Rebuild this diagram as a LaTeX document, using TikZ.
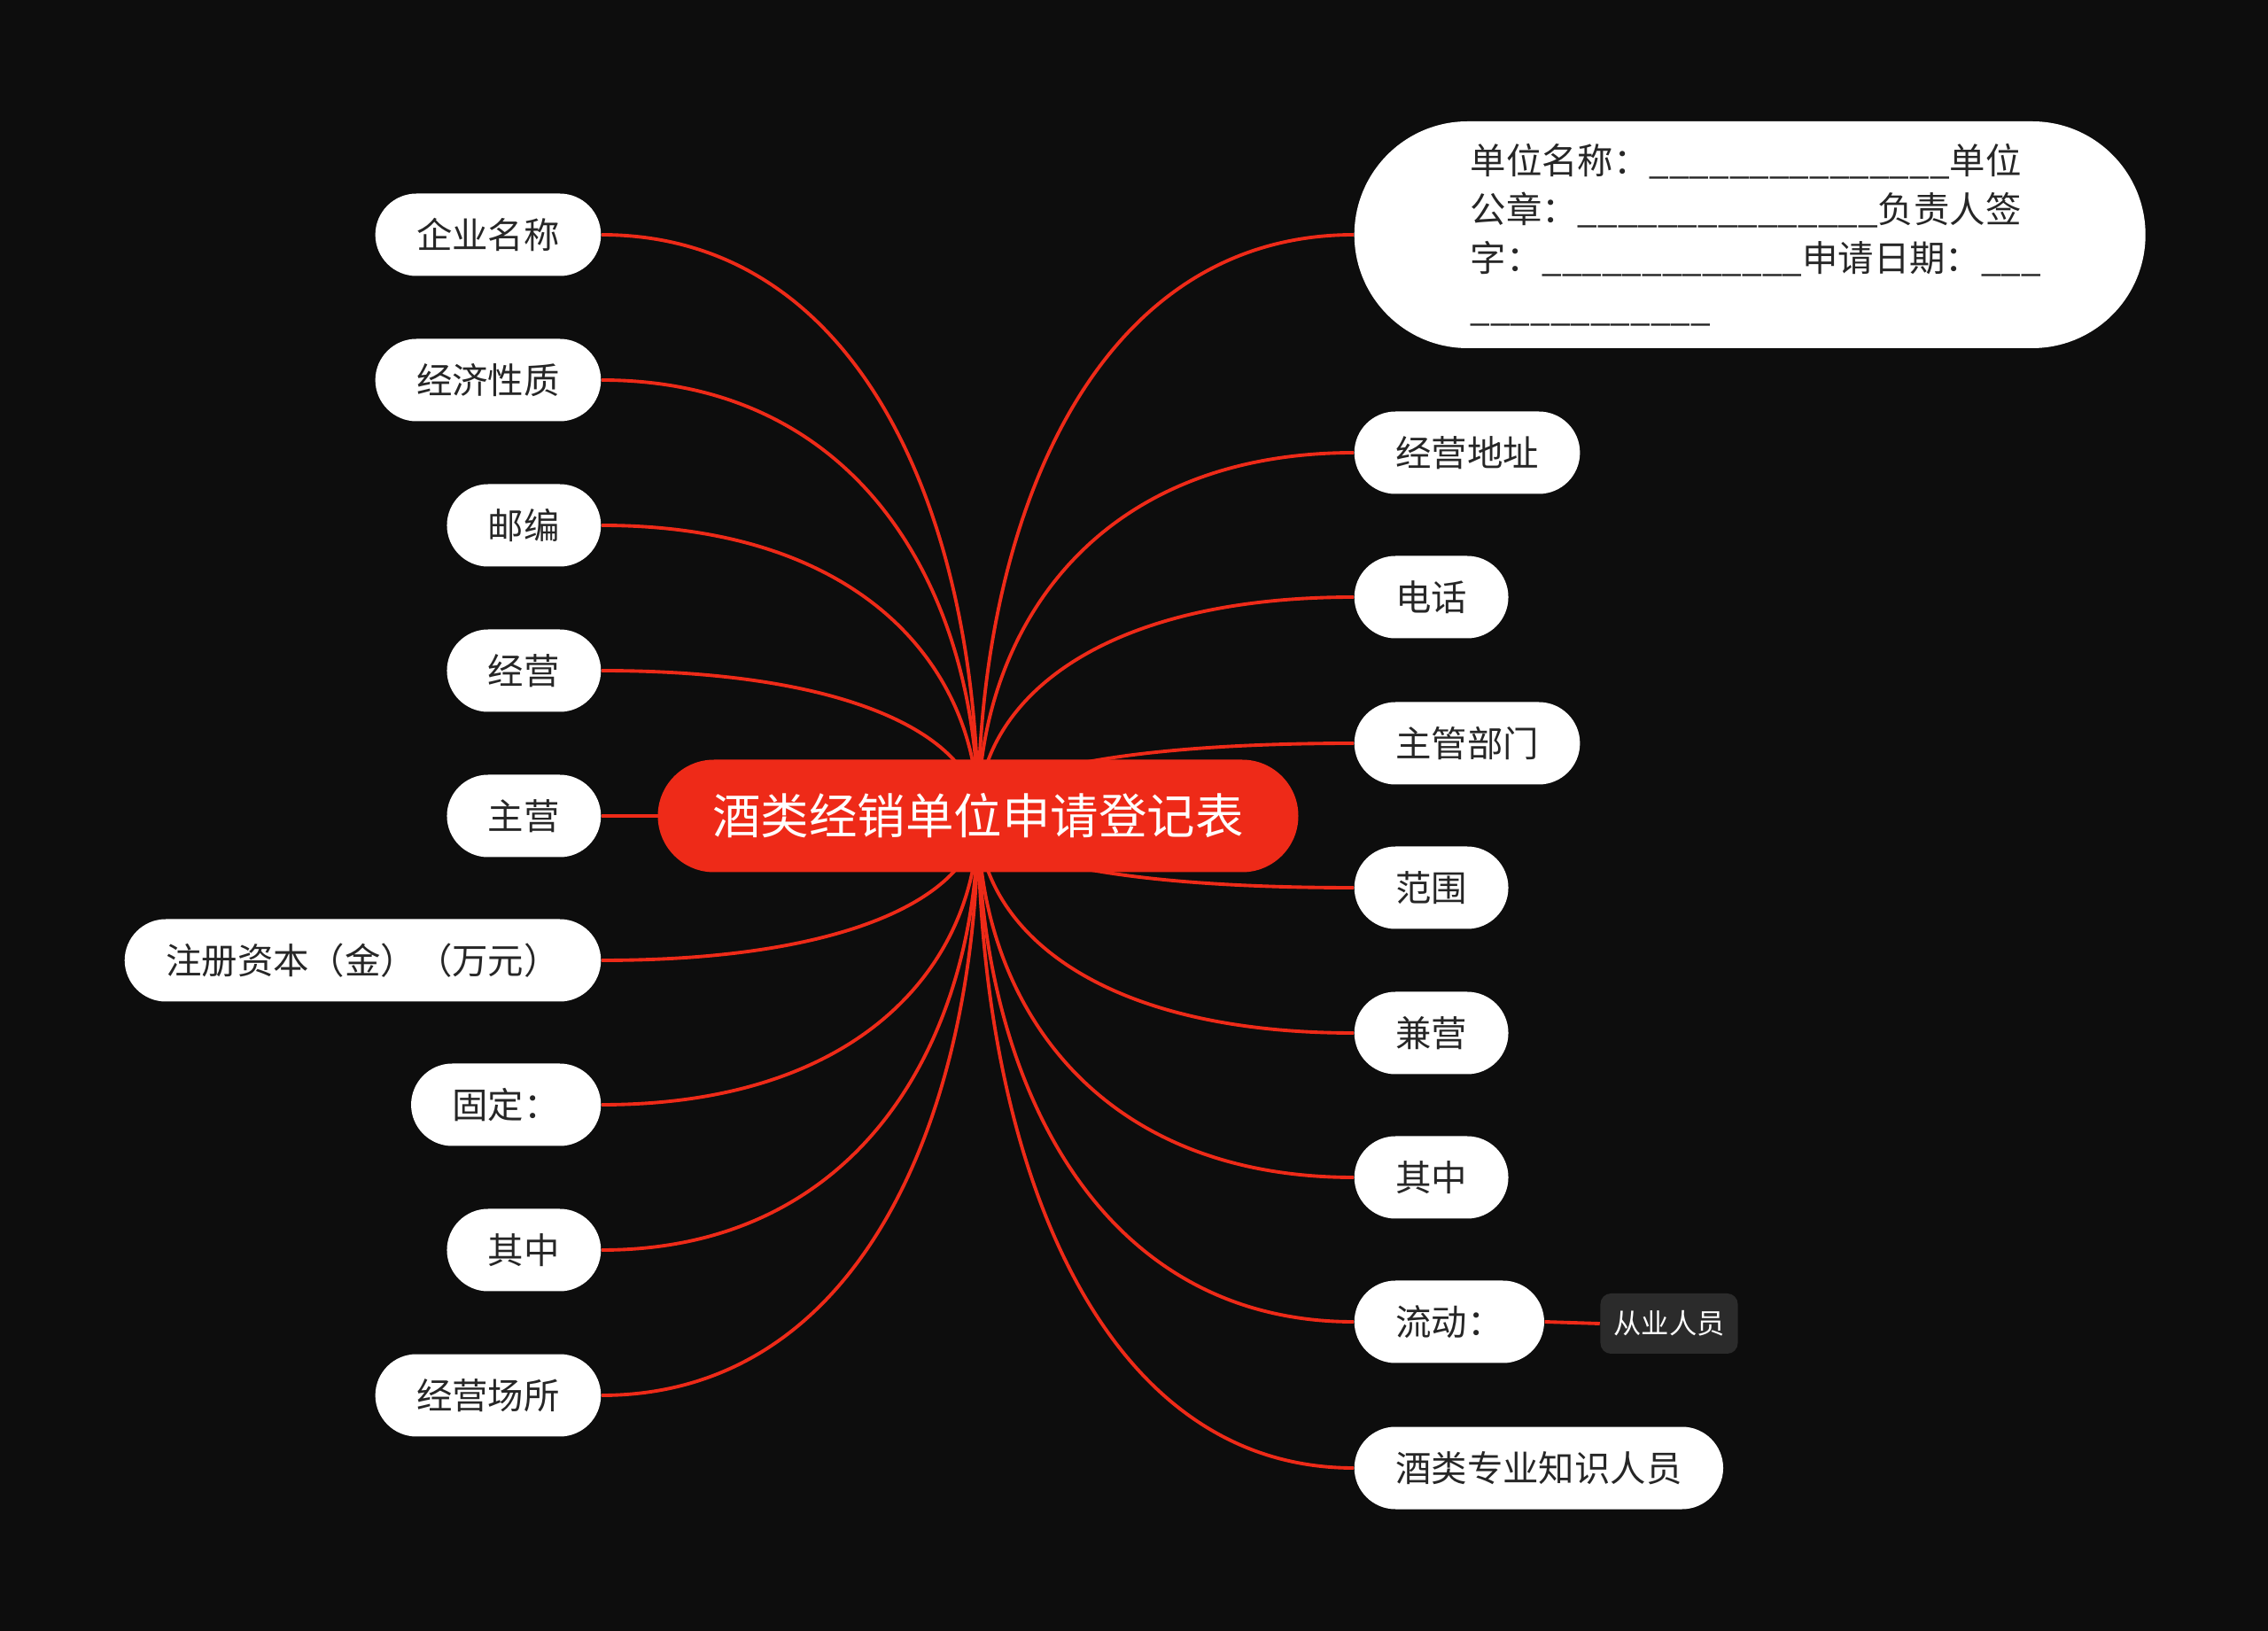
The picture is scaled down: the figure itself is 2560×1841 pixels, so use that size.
\documentclass[tikz,border=0pt]{standalone}
\usepackage{fontspec}
\setmainfont{Noto Sans CJK SC}
\usetikzlibrary{calc}
\definecolor{bgc}{HTML}{0D0D0D}
\definecolor{redc}{HTML}{EE2A18}
\definecolor{inkc}{HTML}{262626}
\definecolor{tagc}{HTML}{2B2B2B}
\pgfdeclarelayer{edges}
\pgfsetlayers{edges,main}
\tikzset{
leaf/.style={fill=white, text=inkc, rounded corners=4.65mm, minimum height=9.3mm,
  inner xsep=4.65mm, inner ysep=0pt, font=\fontsize{11.5pt}{15.7pt}\selectfont},
root/.style={fill=redc, text=white, rounded corners=6.35mm, minimum height=12.7mm,
  minimum width=72.3mm, font=\fontsize{15.5pt}{18pt}\selectfont},
tag/.style={fill=tagc, text=white, rounded corners=1.2mm, minimum height=6.8mm,
  inner xsep=1.5mm, font=\fontsize{8.9pt}{10pt}\selectfont},
twig/.style={draw=redc, line width=1.1pt}
}

\begin{document}
\begin{tikzpicture}[x=0.1mm, y=-0.1mm]
  \useasboundingbox (0,0) rectangle (2560,1841);

  \node[root] (root) at (1104,921) {酒类经销单位申请登记表};

  % left side
  \node[leaf, anchor=east] (name) at (679,265) {企业名称};
  \node[leaf, anchor=east] (nature) at (679,429) {经济性质};
  \node[leaf, anchor=east] (zip) at (679,593) {邮编};
  \node[leaf, anchor=east] (biz) at (679,757) {经营};
  \node[leaf, anchor=east] (main) at (679,921) {主营};
  \node[leaf, anchor=east] (capital) at (679,1084) {注册资本（金）（万元）};
  \node[leaf, anchor=east] (fixed) at (679,1247) {固定：};
  \node[leaf, anchor=east] (among) at (679,1411) {其中};
  \node[leaf, anchor=east] (site) at (679,1575) {经营场所};

  % right side
  \node[leaf, anchor=west, rounded corners=12.8mm, minimum height=25.6mm,
    inner xsep=13.1mm, text width=63.1mm, align=left] (seal) at (1528,265)
    {单位名称：\_\_\_\_\_\_\_\_\_\_\_\_\_\_\_单位\\
     公章：\_\_\_\_\_\_\_\_\_\_\_\_\_\_\_负责人签\\
     字：\_\_\_\_\_\_\_\_\_\_\_\_\_申请日期：\_\_\_\\
     \_\_\_\_\_\_\_\_\_\_\_\_};
  \node[leaf, anchor=west] (addr) at (1528,511) {经营地址};
  \node[leaf, anchor=west] (tel) at (1528,674) {电话};
  \node[leaf, anchor=west] (dept) at (1528,839) {主管部门};
  \node[leaf, anchor=west] (scope) at (1528,1002) {范围};
  \node[leaf, anchor=west] (side) at (1528,1166) {兼营};
  \node[leaf, anchor=west] (among2) at (1528,1329) {其中};
  \node[leaf, anchor=west] (flow) at (1528,1492) {流动：};
  \node[leaf, anchor=west] (expert) at (1528,1657) {酒类专业知识人员};
  \node[tag] (staff) at (1884,1494) {从业人员};

  \begin{pgfonlayer}{edges}
    \fill[bgc] (0,0) rectangle (2560,1841);
    \foreach \n in {name,nature,zip,biz,main,capital,fixed,among,site}
      \draw[twig] (root.center) .. controls ($(root.center)!0.5!(root.center |- \n.east)$)
        and ($(\n.east)!0.7!(root.center |- \n.east)$) .. (\n.east);
    \foreach \n in {seal,addr,tel,dept,scope,side,among2,flow,expert}
      \draw[twig] (root.center) .. controls ($(root.center)!0.5!(root.center |- \n.west)$)
        and ($(\n.west)!0.7!(root.center |- \n.west)$) .. (\n.west);
    \draw[twig] (flow.east) -- (staff.west);
  \end{pgfonlayer}
\end{tikzpicture}
\end{document}
